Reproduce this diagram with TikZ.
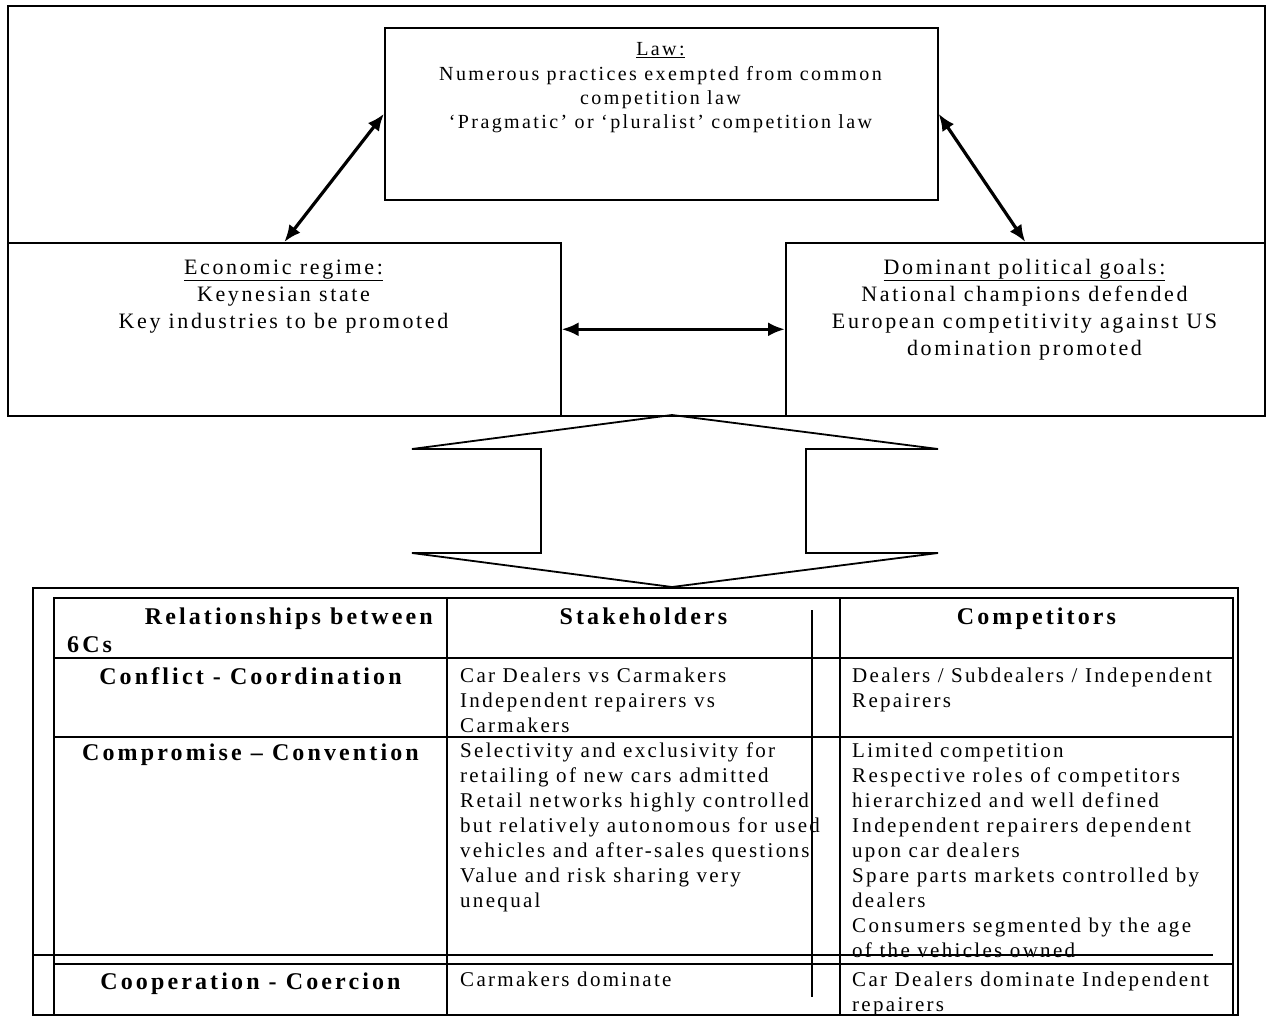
\documentclass[tikz,border=0pt]{standalone}
\usepackage{fontspec}
\setmainfont{Liberation Serif}
\newfontfamily\lawfont[LetterSpace=12]{Liberation Serif}
\newfontfamily\boxfont[LetterSpace=12]{Liberation Serif}
\newfontfamily\tabfont[LetterSpace=11]{Liberation Serif}
\newfontfamily\headfont[LetterSpace=13]{Liberation Serif}
\usetikzlibrary{arrows.meta}
\begin{document}
\begin{tikzpicture}[x=1pt,y=-1pt,line join=miter,
  box/.style={draw,line width=1.6pt,rectangle,inner sep=0pt,anchor=north west},
  link/.style={line width=3.2pt,{Latex[length=17pt,width=14pt]}-{Latex[length=17pt,width=14pt]}},
  lbl/.style={inner sep=0pt,align=center,anchor=north},
  cell/.style={inner sep=0pt,align=left,anchor=north west,font=\tabfont\fontsize{21}{25}\selectfont},
  head/.style={inner sep=0pt,anchor=base,font=\headfont\bfseries\fontsize{24}{28}\selectfont},
  grid/.style={line width=1.6pt},
  thin/.style={line width=1.4pt}]
\useasboundingbox (0,0) rectangle (1266,1016);
% upper part
\node[box,minimum width=1257pt,minimum height=410pt] (frame) at (7,5) {};
\node[box,minimum width=553pt,minimum height=172pt] (law) at (384,27) {};
\node[box,minimum width=553pt,minimum height=173pt] (econ) at (7,242) {};
\node[box,minimum width=479pt,minimum height=173pt] (dom) at (785,242) {};
\node[lbl,font=\lawfont\fontsize{20}{24.3}\selectfont] (lawtxt) at (660.5,38.6) {\strut\underline{Law:}\\Numerous practices exempted from common\\competition law\\‘Pragmatic’ or ‘pluralist’ competition law};
\node[lbl,font=\boxfont\fontsize{22}{27}\selectfont] (econtxt) at (283.5,255.4) {\strut\underline{Economic regime:}\\Keynesian state\\Key industries to be promoted};
\node[lbl,font=\boxfont\fontsize{22}{27}\selectfont] (domtxt) at (1024.5,255.4) {\strut\underline{Dominant political goals:}\\National champions defended\\European competitivity against US\\domination promoted};
\draw[link] (econ.north) -- (law.west);
\draw[link] (law.east) -- (dom.north);
\draw[link] (econ.east) -- (dom.west);
% block arrow
\draw[line width=1.8pt] (672,415) -- (412,449) -- (541,449) -- (541,553) -- (412,553) -- (672,587) -- (938,553) -- (806,553) -- (806,449) -- (938,449) -- cycle;
% table
\draw[thin] (33,588) rectangle (1238,1015);
\draw[grid] (54,598) rectangle (1233,1015);
\draw[grid] (447,598) -- (447,1015);
\draw[grid] (840,598) -- (840,1015);
\draw[grid] (54,658) -- (1233,658);
\draw[grid] (54,737) -- (1233,737);
\draw[grid] (54,964) -- (1233,964);
\draw[thin] (33,955) -- (1213,955);
\draw[thin] (812,610) -- (812,997);
% headers
\node[head,anchor=base east] (h1a) at (433,624) {Relationships between};
\node[head,anchor=base west] (h1b) at (67,652) {6Cs};
\node[head] (h2) at (643.5,624) {Stakeholders};
\node[head] (h3) at (1036.5,624) {Competitors};
\node[head] (r2) at (250.5,684.5) {Conflict - Coordination};
\node[head] (r3) at (250.5,760) {Compromise – Convention};
\node[head] (r4) at (250.5,989) {Cooperation - Coercion};
% cells
\node[cell] (s2) at (460,664.5) {\strut Car Dealers vs Carmakers\\Independent repairers vs\\Carmakers};
\node[cell] (c2) at (852,664.5) {\strut Dealers / Subdealers / Independent\\Repairers};
\node[cell] (s3) at (460,739.5) {\strut Selectivity and exclusivity for\\retailing of new cars admitted\\Retail networks highly controlled\\but relatively autonomous for used\\vehicles and after-sales questions\\Value and risk sharing very\\unequal};
\node[cell] (c3) at (852,739.5) {\strut Limited competition\\Respective roles of competitors\\hierarchized and well defined\\Independent repairers dependent\\upon car dealers\\Spare parts markets controlled by\\dealers\\Consumers segmented by the age\\of the vehicles owned};
\node[cell] (s4) at (460,968.5) {\strut Carmakers dominate};
\node[cell] (c4) at (852,968.5) {\strut Car Dealers dominate Independent\\repairers};
\end{tikzpicture}
\end{document}
